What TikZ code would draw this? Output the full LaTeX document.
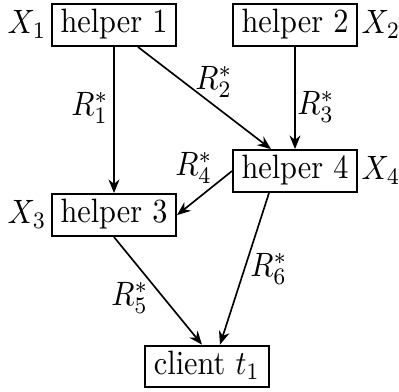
\documentclass[tikz,border=0pt]{standalone}
\usetikzlibrary{arrows.meta}
\begin{document}
\begin{tikzpicture}[x=0.33pt,y=-0.296pt,yscale=1.115,transform shape,
  box/.style={draw,line width=0.7pt,inner xsep=2.8pt,inner ysep=1.5pt,
    text height=7pt,text depth=2.3pt},
  conn/.style={line width=0.55pt,-{Stealth[length=4.5pt,width=3.6pt]}},
  lab/.style={inner sep=0pt}]
\useasboundingbox (0,0) rectangle (399,391);
\node[box] (h1) at (114,25) {helper 1};
\node[box] (h2) at (295,25) {helper 2};
\node[box] (h4) at (295,171) {helper 4};
\node[box] (h3) at (114,215) {helper 3};
\node[box] (c) at (207,366.5) {client $t_1$};
\node[lab,anchor=base] (x1) at (27,33) {$X_1$};
\node[lab,anchor=base] (x2) at (381,33) {$X_2$};
\node[lab,anchor=base] (x4) at (381,179) {$X_4$};
\node[lab,anchor=base] (x3) at (27,223) {$X_3$};
\draw[conn] (h1.south) -- (h3.north);
\draw[conn] ([shift={(24,0)}]h1.south) -- ([shift={(-24,0)}]h4.north);
\draw[conn] (h2.south) -- (h4.north);
\draw[conn] (h4.west) -- (h3.east);
\draw[conn] (h3.south) -- ([shift={(-5,0)}]c.north);
\draw[conn] ([shift={(-26,0)}]h4.south) -- ([shift={(13,0)}]c.north);
\node[lab] (r1) at (90,108) {$R_1^*$};
\node[lab] (r2) at (214,82) {$R_2^*$};
\node[lab] (r3) at (316,107) {$R_3^*$};
\node[lab] (r4) at (194,168) {$R_4^*$};
\node[lab] (r5) at (130,298) {$R_5^*$};
\node[lab] (r6) at (269,269) {$R_6^*$};
\end{tikzpicture}
\end{document}
